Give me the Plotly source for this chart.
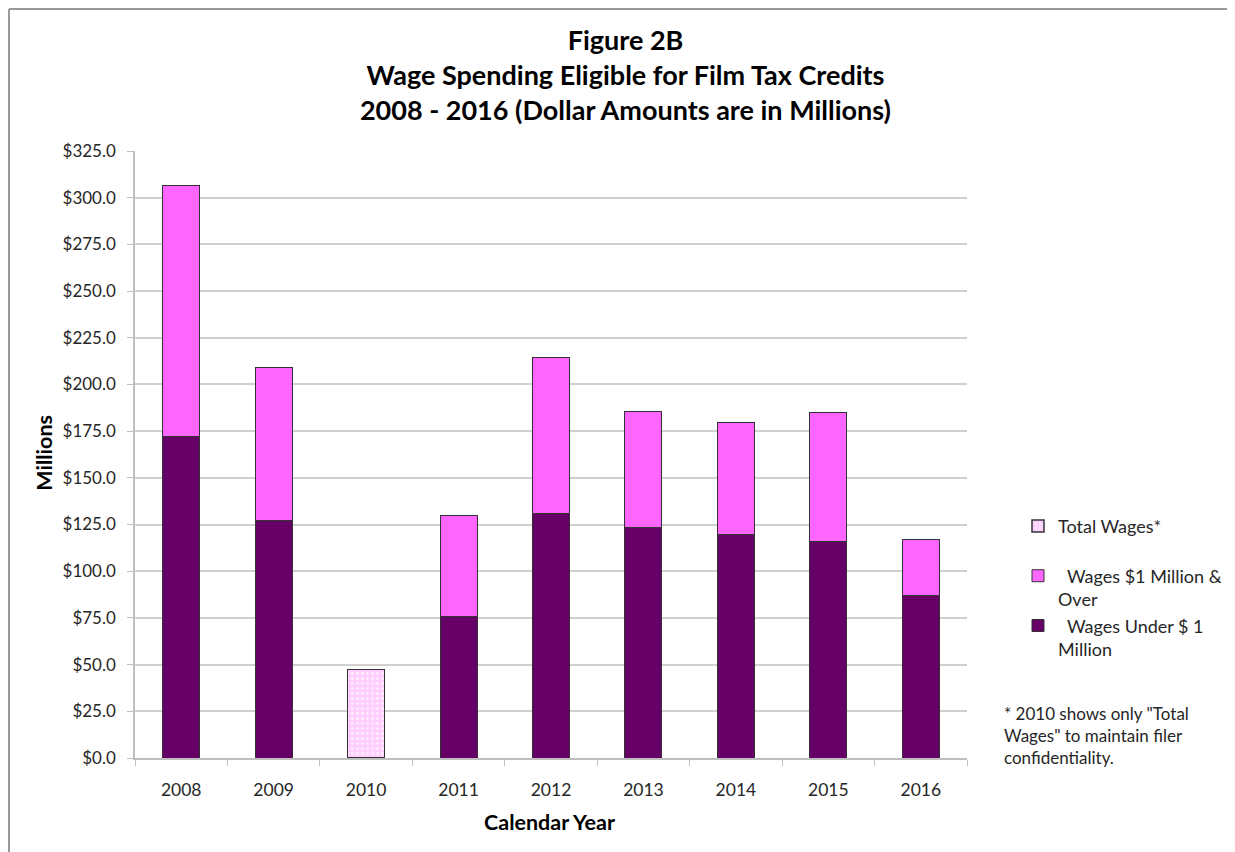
import plotly.graph_objects as go

# ---- data ----
years = ["2008", "2009", "2010", "2011", "2012", "2013", "2014", "2015", "2016"]
wages_under_1m = [172.3, 127.3, None, 75.6, 131.1, 123.6, 119.7, 116.1, 86.8]
wages_1m_over = [134.1, 81.8, None, 54.1, 83.4, 62.1, 60.0, 68.7, 30.0]
total_wages = [None, None, 47.4, None, None, None, None, None, None]

FONT = "Lato"
TXT = "#262626"

fig = go.Figure()
fig.add_trace(go.Bar(
    x=years, y=wages_under_1m, name="  Wages Under $ 1<br>Million",
    marker=dict(color="#660066", line=dict(color="#333333", width=1)),
    width=0.4,
))
fig.add_trace(go.Bar(
    x=years, y=wages_1m_over, name="  Wages $1 Million &<br>Over",
    marker=dict(color="#FF66FF", line=dict(color="#333333", width=1)),
    width=0.4,
))
fig.add_trace(go.Bar(
    x=years, y=total_wages, name="Total Wages*<br> ",
    marker=dict(color="#FFCCFF", line=dict(color="#333333", width=1.5),
                pattern=dict(shape=".", bgcolor="#FFCCFF", fgcolor="#FFE8FF",
                             size=5, solidity=0.35, fillmode="replace")),
    width=0.4,
))

OFF = 8  # page offset of the figure div (body margin)
W, H = 1235, 852
# target plot area in page pixels: x 135..967, y 151..758.5
L = 135 - OFF
T = 151 - OFF
R = W - (967 - OFF)
B = H - (758.5 - OFF)
pw = W - L - R
ph = H - T - B


def px(x):
    """page x pixel -> paper coordinate"""
    return (x - OFF - L) / pw


def py(y):
    """page y pixel -> paper coordinate"""
    return (H - B - (y - OFF)) / ph


fig.update_layout(
    width=W, height=H,
    barmode="stack",
    margin=dict(l=L, r=R, t=T, b=B),
    paper_bgcolor="white", plot_bgcolor="white",
    font=dict(family=FONT, size=17, color=TXT),
    title=dict(
        text="Figure 2B<br>Wage Spending Eligible for Film Tax Credits<br>2008 - 2016 (Dollar Amounts are in Millions)",
        x=0.5, xanchor="center", xref="container",
        y=1 - (50 - OFF) / H, yanchor="top", yref="container",
        font=dict(family=FONT, size=27, color="black", weight="bold"),
    ),
    xaxis=dict(
        type="category",
        showgrid=False,
        showline=True, linecolor="#bfbfbf", linewidth=1.5,
        ticks="outside", tickson="boundaries", ticklen=6, tickcolor="#bfbfbf",
        tickfont=dict(family=FONT, size=17.5, color=TXT),
        ticklabelstandoff=15,
    ),
    yaxis=dict(
        range=[0, 325], dtick=25, tickprefix="$", tickformat=".1f",
        showgrid=True, gridcolor="#d0d0d0", gridwidth=1.5,
        showline=True, linecolor="#bfbfbf", linewidth=1.5,
        ticks="outside", ticklen=6, tickcolor="#bfbfbf",
        tickfont=dict(family=FONT, size=17, color=TXT),
        ticklabelstandoff=8,
        zeroline=False,
    ),
    legend=dict(
        x=px(1018), y=py(508), xanchor="left", yanchor="top",
        traceorder="reversed", valign="top",
        font=dict(family=FONT, size=18, color=TXT),
        bgcolor="rgba(0,0,0,0)", itemwidth=30,
    ),
    showlegend=True,
)

fig.add_annotation(
    text="Millions", textangle=-90,
    x=px(44), y=py(453), xref="paper", yref="paper",
    xanchor="center", yanchor="middle", showarrow=False,
    font=dict(family=FONT, size=21.5, color="black", weight="bold"),
)
fig.add_annotation(
    text="Calendar Year",
    x=px(549), y=py(823), xref="paper", yref="paper",
    xanchor="center", yanchor="middle", showarrow=False,
    font=dict(family=FONT, size=21.5, color="black", weight="bold"),
)
fig.add_annotation(
    text="* 2010 shows only \"Total<br>Wages\" to maintain filer<br>confidentiality.",
    x=px(1002), y=py(701), xref="paper", yref="paper",
    xanchor="left", yanchor="top", align="left", showarrow=False,
    font=dict(family=FONT, size=17, color=TXT),
)

# outer frame (left and top edges visible in the reference)
fig.add_shape(type="line", xref="paper", yref="paper",
              x0=px(OFF + 1), x1=px(OFF + 1), y0=py(OFF + 1), y1=py(H + 20),
              line=dict(color="#999999", width=2))
fig.add_shape(type="line", xref="paper", yref="paper",
              x0=px(OFF + 1), x1=px(W + 20), y0=py(OFF + 1), y1=py(OFF + 1),
              line=dict(color="#999999", width=2))

fig.write_html("out.html")
